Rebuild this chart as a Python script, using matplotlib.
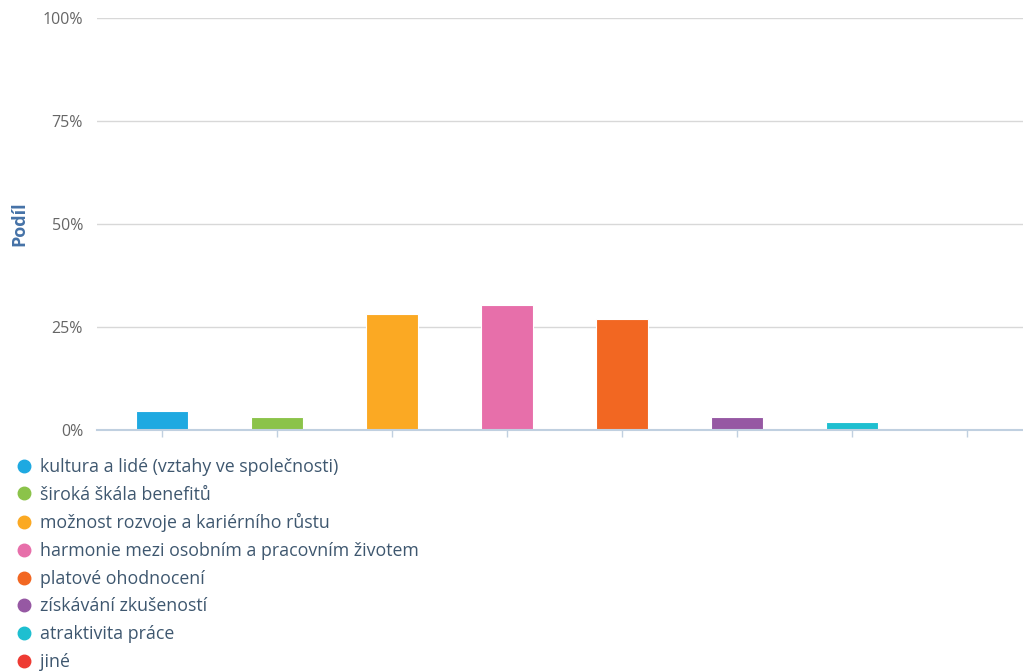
import matplotlib
matplotlib.use("Agg")
import matplotlib.pyplot as plt
from matplotlib.lines import Line2D
from matplotlib.ticker import FuncFormatter

plt.rcParams['font.family'] = ['Open Sans', 'DejaVu Sans']

# data
categories = [
    'kultura a lidé (vztahy ve společnosti)',
    'široká škála benefitů',
    'možnost rozvoje a kariérního růstu',
    'harmonie mezi osobním a pracovním životem',
    'platové ohodnocení',
    'získávání zkušeností',
    'atraktivita práce',
    'jiné',
]
shares = [4.6, 3.2, 28.1, 30.3, 26.9, 3.2, 1.9, 0.0]
colors = ['#1EA9E1', '#8BC34A', '#FBA923', '#E76FAA',
          '#F26722', '#9658A3', '#1EBFD0', '#EE3B33']
y_ticks = [0, 25, 50, 75, 100]

W, H = 1023, 672
fig = plt.figure(figsize=(W / 100, H / 100), dpi=100)
ax = fig.add_axes([97 / W, 1 - 430 / H, (1023 - 97) / W, (430 - 18) / H])

x = list(range(len(categories)))
ax.bar(x, shares, width=0.46, color=colors, edgecolor='white', linewidth=0.8, zorder=3)

ax.set_xlim(-0.565, 7.487)
ax.set_ylim(0, 100)
ax.set_yticks(y_ticks)
ax.yaxis.set_major_formatter(FuncFormatter(lambda v, p: '%d%%' % v))
ax.grid(axis='y', color='#D8D8D8', linewidth=1, zorder=0)
ax.tick_params(axis='y', length=0, pad=10, labelsize=11.5, labelcolor='#666666')
ax.set_xticks(x)
ax.set_xticklabels([])
ax.tick_params(axis='x', length=5, width=1, color='#C0D0E0', direction='out')

for s in ['top', 'right', 'left']:
    ax.spines[s].set_visible(False)
ax.spines['bottom'].set_color('#C0D0E0')
ax.spines['bottom'].set_linewidth(1.5)
ax.spines['bottom'].set_zorder(4)

fig.text(19 / W, 1 - 224 / H, 'Podíl', rotation=90, ha='center', va='center',
         fontsize=13, fontweight='bold', color='#4572A7')

handles = [Line2D([], [], marker='o', linestyle='none', markersize=9,
                  markerfacecolor=c, markeredgecolor=c) for c in colors]
leg = fig.legend(handles, categories, loc='upper left',
                 bbox_to_anchor=(15 / W, 1 - 458 / H), frameon=False,
                 fontsize=12.8, labelspacing=0.545, handletextpad=0.42,
                 handlelength=1.0, borderaxespad=0, borderpad=0)
for t in leg.get_texts():
    t.set_color('#3E576F')

fig.savefig('out.png', dpi=100)
